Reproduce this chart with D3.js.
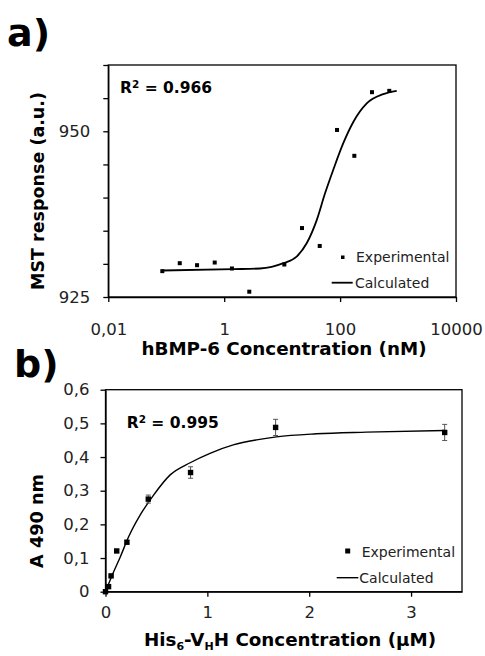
<!DOCTYPE html>
<html>
<head>
<meta charset="utf-8">
<script src="https://cdn.jsdelivr.net/npm/d3@7"></script>
<style>
body { margin: 0; background: #fff; }
text { font-family: "DejaVu Sans", sans-serif; fill: #000; }
.axis path, .axis line { stroke: #000; stroke-width: 1.3; }
.axis text { font-size: 16.5px; fill: #222; }
</style>
</head>
<body>
<div id="idChart"></div>
<script>
// panel a) MST, hBMP-6 concentration (nM) vs response
var aMstConc = [0.0855, 0.171, 0.34, 0.686, 1.36, 2.71, 10.9, 22, 44.5, 88.5, 176, 355, 706];
var aMstResp = [928.9, 930.1, 929.8, 930.2, 929.3, 925.8, 929.9, 935.4, 932.7, 950.2, 946.3, 955.9, 956.1];
// fitted curve
var aMstFitConc = [0.0855, 1.44, 4.15, 10.5, 17.8, 26.5, 39.5, 54.8, 76.3, 113.5, 169, 288, 556, 948];
var aMstFitResp = [929.0, 929.2, 929.3, 930.1, 931.1, 933.1, 936.6, 940.6, 944.2, 948.2, 951.4, 954.2, 955.6, 956.1];
var aMstXTicks = [0.01, 1, 100, 10000];
var aMstYTicks = [925, 930, 935, 940, 945, 950, 955, 960];
var aMstYLabels = [925, 950];

// panel b) ELISA, His6-VHH concentration (uM) vs A490
var aElisaConc = [3.33, 1.67, 0.835, 0.42, 0.21, 0.11, 0.055, 0.03, 0];
var aElisaAbs = [0.473, 0.488, 0.354, 0.275, 0.147, 0.121, 0.047, 0.015, 0];
var aElisaErr = [0.024, 0.024, 0.017, 0.012, 0.005, 0.004, 0.003, 0.002, 0];
var aElisaFitConc = [0, 0.08, 0.146, 0.227, 0.341, 0.472, 0.635, 0.831, 1.026, 1.254, 1.483, 1.679, 2.07, 2.56, 3.33];
var aElisaFitAbs = [0, 0.059, 0.104, 0.163, 0.228, 0.287, 0.347, 0.383, 0.411, 0.436, 0.451, 0.46, 0.469, 0.474, 0.479];
var aElisaXTicks = [0, 1, 2, 3];
var aElisaYTicks = [0, 0.1, 0.2, 0.3, 0.4, 0.5, 0.6];

function comma(d)
{
    return String(d).replace(".", ",");
}

function rSquared(x, y, sValue)
{
    var t = svg.append("text").attr("x", x).attr("y", y)
        .style("font-size", "15.5px").style("font-weight", "bold");
    t.append("tspan").text("R");
    t.append("tspan").attr("dy", -5).style("font-size", "10.5px").text("2");
    t.append("tspan").attr("dy", 5).text(" = " + sValue);
}

var svg = d3.select("#idChart").append("svg")
    .attr("width", 485).attr("height", 656);

svg.append("rect").attr("width", 485).attr("height", 656).attr("fill", "#fff");

// ---------------- a)
var xA = d3.scaleLog().domain([0.01, 10000]).range([108.3, 456]);
var yA = d3.scaleLinear().domain([925, 960]).range([297, 65]);

svg.append("text").attr("x", 7).attr("y", 46)
    .style("font-size", "38px").style("font-weight", "bold").text("a)");

svg.append("rect")
    .attr("x", xA.range()[0]).attr("y", yA.range()[1])
    .attr("width", xA.range()[1] - xA.range()[0])
    .attr("height", yA.range()[0] - yA.range()[1])
    .attr("fill", "none").attr("stroke", "#000").attr("stroke-width", 1.3);

svg.append("g").attr("class", "axis")
    .attr("transform", "translate(0," + yA.range()[0] + ")")
    .call(d3.axisBottom(xA).tickValues(aMstXTicks).tickFormat(comma)
        .tickSize(5).tickSizeOuter(0).tickPadding(21));

svg.append("g").attr("class", "axis")
    .attr("transform", "translate(" + xA.range()[0] + ",0)")
    .call(d3.axisLeft(yA).tickValues(aMstYTicks)
        .tickFormat(function(d) { return aMstYLabels.indexOf(d) >= 0 ? d : ""; })
        .tickSize(5).tickSizeOuter(0).tickPadding(13));

var lineA = d3.line()
    .x(function(d, i) { return xA(aMstFitConc[i]); })
    .y(function(d, i) { return yA(aMstFitResp[i]); })
    .curve(d3.curveMonotoneX);

svg.append("path").attr("d", lineA(aMstFitConc))
    .attr("fill", "none").attr("stroke", "#000").attr("stroke-width", 1.8);

svg.selectAll(".ptA").data(aMstConc).enter().append("rect")
    .attr("class", "ptA")
    .attr("x", function(d) { return xA(d) - 2; })
    .attr("y", function(d, i) { return yA(aMstResp[i]) - 2; })
    .attr("width", 4).attr("height", 4).attr("fill", "#000");

rSquared(120, 93, "0.966");

// legend a
svg.append("rect").attr("x", 341).attr("y", 255.5).attr("width", 3.5).attr("height", 3.5).attr("fill", "#000");
svg.append("text").attr("x", 356).attr("y", 262).style("font-size", "14px").style("fill", "#222").text("Experimental");
svg.append("line").attr("x1", 331.7).attr("x2", 352.7).attr("y1", 282.7).attr("y2", 282.7)
    .attr("stroke", "#000").attr("stroke-width", 1.8);
svg.append("text").attr("x", 355).attr("y", 288).style("font-size", "14px").style("fill", "#222").text("Calculated");

svg.append("text").attr("x", 284).attr("y", 355)
    .attr("text-anchor", "middle")
    .style("font-size", "18.3px").style("font-weight", "bold")
    .text("hBMP-6 Concentration (nM)");

svg.append("text")
    .attr("transform", "translate(43.5,191) rotate(-90)")
    .attr("text-anchor", "middle")
    .style("font-size", "17.5px").style("font-weight", "bold")
    .text("MST response (a.u.)");

// ---------------- b)
var xB = d3.scaleLinear().domain([0, 3.5]).range([105.5, 462]);
var yB = d3.scaleLinear().domain([0, 0.6]).range([591.7, 389.7]);

svg.append("text").attr("x", 14).attr("y", 377)
    .style("font-size", "38px").style("font-weight", "bold").text("b)");

svg.append("rect")
    .attr("x", xB.range()[0]).attr("y", yB.range()[1])
    .attr("width", xB.range()[1] - xB.range()[0])
    .attr("height", yB.range()[0] - yB.range()[1])
    .attr("fill", "none").attr("stroke", "#000").attr("stroke-width", 1.3);

svg.append("g").attr("class", "axis")
    .attr("transform", "translate(0," + yB.range()[0] + ")")
    .call(d3.axisBottom(xB).tickValues(aElisaXTicks).tickFormat(comma)
        .tickSize(5).tickSizeOuter(0).tickPadding(10));

svg.append("g").attr("class", "axis")
    .attr("transform", "translate(" + xB.range()[0] + ",0)")
    .call(d3.axisLeft(yB).tickValues(aElisaYTicks).tickFormat(comma)
        .tickSize(5).tickSizeOuter(0).tickPadding(11));

var lineB = d3.line()
    .x(function(d, i) { return xB(aElisaFitConc[i]); })
    .y(function(d, i) { return yB(aElisaFitAbs[i]); })
    .curve(d3.curveMonotoneX);

svg.append("path").attr("d", lineB(aElisaFitConc))
    .attr("fill", "none").attr("stroke", "#000").attr("stroke-width", 1.4);

// error bars
var err = svg.selectAll(".errB").data(aElisaConc).enter().append("g").attr("class", "errB");
err.append("line")
    .attr("x1", function(d) { return xB(d); }).attr("x2", function(d) { return xB(d); })
    .attr("y1", function(d, i) { return yB(aElisaAbs[i] - aElisaErr[i]); })
    .attr("y2", function(d, i) { return yB(aElisaAbs[i] + aElisaErr[i]); })
    .attr("stroke", "#555").attr("stroke-width", 1);
err.append("line")
    .attr("x1", function(d) { return xB(d) - 2.5; }).attr("x2", function(d) { return xB(d) + 2.5; })
    .attr("y1", function(d, i) { return yB(aElisaAbs[i] + aElisaErr[i]); })
    .attr("y2", function(d, i) { return yB(aElisaAbs[i] + aElisaErr[i]); })
    .attr("stroke", "#555").attr("stroke-width", 1);
err.append("line")
    .attr("x1", function(d) { return xB(d) - 2.5; }).attr("x2", function(d) { return xB(d) + 2.5; })
    .attr("y1", function(d, i) { return yB(aElisaAbs[i] - aElisaErr[i]); })
    .attr("y2", function(d, i) { return yB(aElisaAbs[i] - aElisaErr[i]); })
    .attr("stroke", "#555").attr("stroke-width", 1);

svg.selectAll(".ptB").data(aElisaConc).enter().append("rect")
    .attr("class", "ptB")
    .attr("x", function(d) { return xB(d) - 2.7; })
    .attr("y", function(d, i) { return yB(aElisaAbs[i]) - 2.7; })
    .attr("width", 5.4).attr("height", 5.4).attr("fill", "#000");

rSquared(126.7, 428, "0.995");

// legend b
svg.append("rect").attr("x", 345.2).attr("y", 548.5).attr("width", 5).attr("height", 5).attr("fill", "#000");
svg.append("text").attr("x", 361.7).attr("y", 557).style("font-size", "14px").style("fill", "#222").text("Experimental");
svg.append("line").attr("x1", 336.7).attr("x2", 358.3).attr("y1", 577.7).attr("y2", 577.7)
    .attr("stroke", "#000").attr("stroke-width", 1.4);
svg.append("text").attr("x", 359.3).attr("y", 583).style("font-size", "14px").style("fill", "#222").text("Calculated");

var tB = svg.append("text").attr("x", 290).attr("y", 646)
    .attr("text-anchor", "middle")
    .style("font-size", "18.3px").style("font-weight", "bold");
tB.append("tspan").text("His");
tB.append("tspan").attr("dy", 4).style("font-size", "11px").text("6");
tB.append("tspan").attr("dy", -4).text("-V");
tB.append("tspan").attr("dy", 4).style("font-size", "11px").text("H");
tB.append("tspan").attr("dy", -4).text("H Concentration (\u00b5M)");

svg.append("text")
    .attr("transform", "translate(43,521) rotate(-90)")
    .attr("text-anchor", "middle")
    .style("font-size", "17.7px").style("font-weight", "bold")
    .text("A 490 nm");
</script>
</body>
</html>
